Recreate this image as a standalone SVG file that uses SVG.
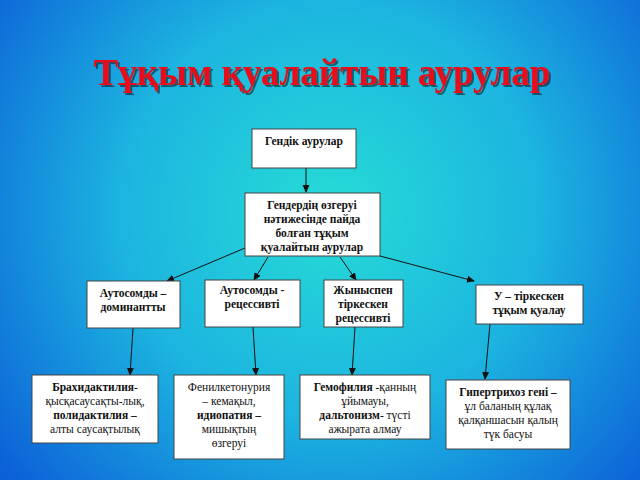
<svg xmlns="http://www.w3.org/2000/svg" width="640" height="480" viewBox="0 0 640 480">
<defs>
<radialGradient id="bg" cx="330" cy="210" r="420" gradientUnits="userSpaceOnUse">
<stop offset="0" stop-color="#26dcd6"/><stop offset="0.5" stop-color="#1cb4e0"/><stop offset="1" stop-color="#0c5fd8"/>
</radialGradient>
<filter id="sh" x="-5%" y="-20%" width="110%" height="140%"><feDropShadow dx="2" dy="2" stdDeviation="0.6" flood-color="#000" flood-opacity="0.5"/></filter>
<marker id="ah" markerWidth="8" markerHeight="8" refX="7" refY="4" orient="auto" markerUnits="userSpaceOnUse"><path d="M0,0.5 L8,4 L0,7.5z" fill="#111"/></marker>
<style>
rect.b{fill:#fff;stroke:#444;stroke-width:1}
text{font-family:"Liberation Serif",serif;font-size:11.5px;fill:#111;text-anchor:middle}
.bd{font-weight:bold}
line{stroke:#111;stroke-width:1;marker-end:url(#ah)}
</style>
</defs>
<rect width="640" height="480" fill="url(#bg)"/>
<text x="322" y="85" filter="url(#sh)" style="font-size:37px;font-weight:bold;fill:#e8101a">Тұқым қуалайтын аурулар</text>
<g id="connectors">
<line x1="306" y1="168" x2="306" y2="192"/>
<line x1="245" y1="248" x2="167" y2="281"/>
<line x1="268" y1="257" x2="254" y2="280"/>
<line x1="340" y1="257" x2="356" y2="280"/>
<line x1="380" y1="256" x2="474" y2="281"/>
<line x1="133" y1="328" x2="130" y2="375"/>
<line x1="253" y1="327" x2="256" y2="375"/>
<line x1="355" y1="327" x2="352" y2="375"/>
<line x1="490" y1="324" x2="485" y2="379"/>
</g>
<g id="n1"><rect class="b" x="252" y="129" width="104" height="39"/><text class="bd" x="304" y="145">Гендік аурулар</text></g>
<g id="n2"><rect class="b" x="245" y="193" width="135" height="63"/>
<text class="bd" x="312" y="209">Гендердің өзгеруі</text><text class="bd" x="312" y="223">нәтижесінде пайда</text><text class="bd" x="312" y="237">болған тұқым</text><text class="bd" x="312" y="251">қуалайтын аурулар</text></g>
<g id="n3"><rect class="b" x="87" y="281" width="93" height="47"/><text class="bd" x="133" y="297">Аутосомды –</text><text class="bd" x="133" y="311">доминантты</text></g>
<g id="n4"><rect class="b" x="205" y="280" width="95" height="47"/><text class="bd" x="252" y="294">Аутосомды -</text><text class="bd" x="252" y="308">рецессивті</text></g>
<g id="n5"><rect class="b" x="324" y="280" width="79" height="47"/><text class="bd" x="363" y="294">Жыныспен</text><text class="bd" x="363" y="308">тіркескен</text><text class="bd" x="363" y="322">рецессивті</text></g>
<g id="n6"><rect class="b" x="476" y="285" width="107" height="39"/><text class="bd" x="529" y="300">У – тіркескен</text><text class="bd" x="529" y="314">тұқым қуалау</text></g>
<g id="n7"><rect class="b" x="32" y="375" width="126" height="68"/>
<text x="95" y="391"><tspan class="bd">Брахидактилия</tspan>-</text><text x="95" y="405">қысқасаусақты-лық,</text><text x="95" y="419" class="bd">полидактилия –</text><text x="95" y="433">алты саусақтылық</text></g>
<g id="n8"><rect class="b" x="174" y="375" width="110" height="84"/>
<text x="229" y="391">Фенилкетонурия</text><text x="229" y="405">– кемақыл,</text><text x="229" y="419" class="bd">идиопатия –</text><text x="229" y="433">мишықтың</text><text x="229" y="447">өзгеруі</text></g>
<g id="n9"><rect class="b" x="300" y="375" width="130" height="64"/>
<text x="365" y="391"><tspan class="bd">Гемофилия</tspan> -қанның</text><text x="365" y="405">ұйымауы,</text><text x="365" y="419"><tspan class="bd">дальтонизм</tspan>- түсті</text><text x="365" y="433">ажырата алмау</text></g>
<g id="n10"><rect class="b" x="446" y="380" width="124" height="69"/>
<text class="bd" x="508" y="396">Гипертрихоз гені –</text><text x="508" y="410">ұл баланың құлақ</text><text x="508" y="424">қалқаншасын  қалың</text><text x="508" y="438">түк басуы</text></g>
</svg>
